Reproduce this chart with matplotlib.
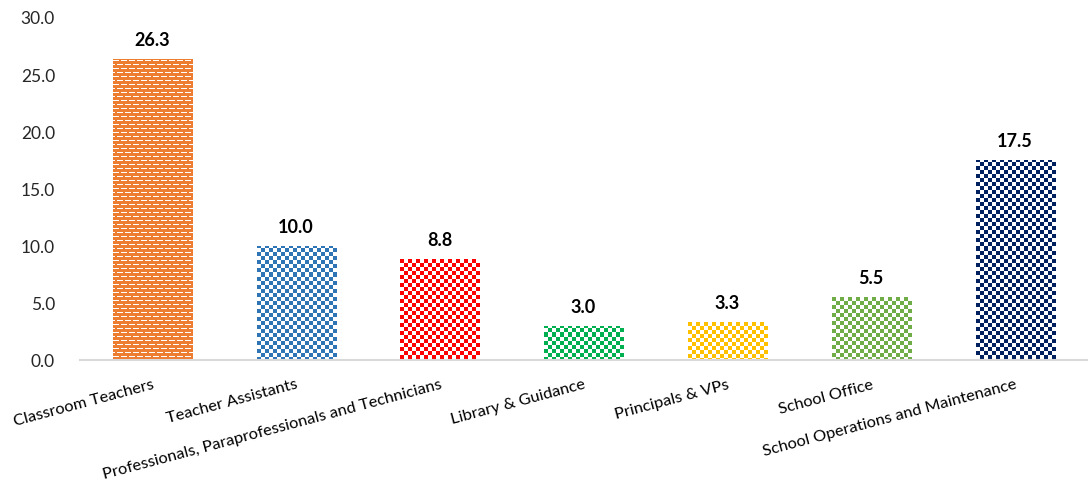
import numpy as np
import matplotlib
matplotlib.use("Agg")
import matplotlib.pyplot as plt
from matplotlib.colors import to_rgb

# ---------------------------------------------------------------------------
# Data
# ---------------------------------------------------------------------------
categories = [
    "Classroom Teachers",
    "Teacher Assistants",
    "Professionals, Paraprofessionals and Technicians",
    "Library & Guidance",
    "Principals & VPs",
    "School Office",
    "School Operations and Maintenance",
]
values = [26.3, 10.0, 8.8, 3.0, 3.3, 5.5, 17.5]
colors = ["#ED7D31", "#2E75B6", "#FF0000", "#00B050", "#FFC000", "#70AD47", "#002060"]
patterns = ["dash", "check", "check", "check", "check", "check", "check"]
y_ticks = [0, 5, 10, 15, 20, 25, 30]

DPI = 100
W, H = 1089, 489
plt.rcParams["font.family"] = ["Lato", "DejaVu Sans"]


def _pattern_image(kind, color, w_px, h_px):
    """Return an RGB array (one cell per screen pixel) for a fill pattern."""
    fg = np.array(to_rgb(color))
    white = np.ones(3)
    yy, xx = np.mgrid[0:h_px, 0:w_px]
    if kind == "check":
        mask = ((xx // 4) + (yy // 4)) % 2 == 0
        img = np.where(mask[..., None], fg, white)
    else:
        row = yy % 8
        shift = np.where(row < 4, 0, 4)
        dash = ((xx + shift) % 8) < 6
        white_row = (row % 4) == 1
        img = np.where((white_row & dash)[..., None], white, fg)
    return img


fig = plt.figure(figsize=(W / DPI, H / DPI), dpi=DPI)
ax = fig.add_axes([80 / W, (H - 361) / H, (1087 - 80) / W, (361 - 18) / H])

x = np.arange(len(categories))
bars = ax.bar(x + 0.005, values, width=0.556, color="none", edgecolor="none", zorder=2)
ax.set_xlim(-0.5, len(categories) - 0.5)
ax.set_ylim(0, 30)

# Pattern fill, clipped to each bar
px_x = ax.get_position().width * W / (len(categories))
px_y = ax.get_position().height * H / 30.0
for bar, kind, col in zip(bars, patterns, colors):
    x0 = bar.get_x()
    bw = bar.get_width()
    bh = bar.get_height()
    w_px = int(np.ceil(bw * px_x))
    h_px = int(np.ceil(bh * px_y))
    img = _pattern_image(kind, col, w_px, h_px)
    im = ax.imshow(
        img[::-1],
        extent=(x0, x0 + w_px / px_x, 0, h_px / px_y),
        origin="lower",
        interpolation="nearest",
        aspect="auto",
        zorder=2,
    )
    im.set_clip_path(bar)

ax.set_xlim(-0.5, len(categories) - 0.5)
ax.set_ylim(0, 30)

for xi, v in zip(x, values):
    ax.annotate(
        f"{v:.1f}", (xi, v), xytext=(0, 8), textcoords="offset points",
        ha="center", va="bottom", fontsize=13, fontweight="bold", color="black",
    )

ax.set_yticks(y_ticks)
ax.set_yticklabels([f"{t:.1f}" for t in y_ticks], fontsize=12.5, color="#262626")
ax.set_xticks(x)
ax.set_xticklabels(categories, rotation=15, ha="right", va="top",
                   rotation_mode="anchor", fontsize=11.8, color="black")
ax.tick_params(axis="both", length=0)
ax.tick_params(axis="x", pad=12)
ax.tick_params(axis="y", pad=18)

for side in ("top", "right", "left"):
    ax.spines[side].set_visible(False)
ax.spines["bottom"].set_color("#D9D9D9")
ax.spines["bottom"].set_linewidth(1.5)
ax.spines["bottom"].set_zorder(3)

fig.savefig("out.png", dpi=DPI)
